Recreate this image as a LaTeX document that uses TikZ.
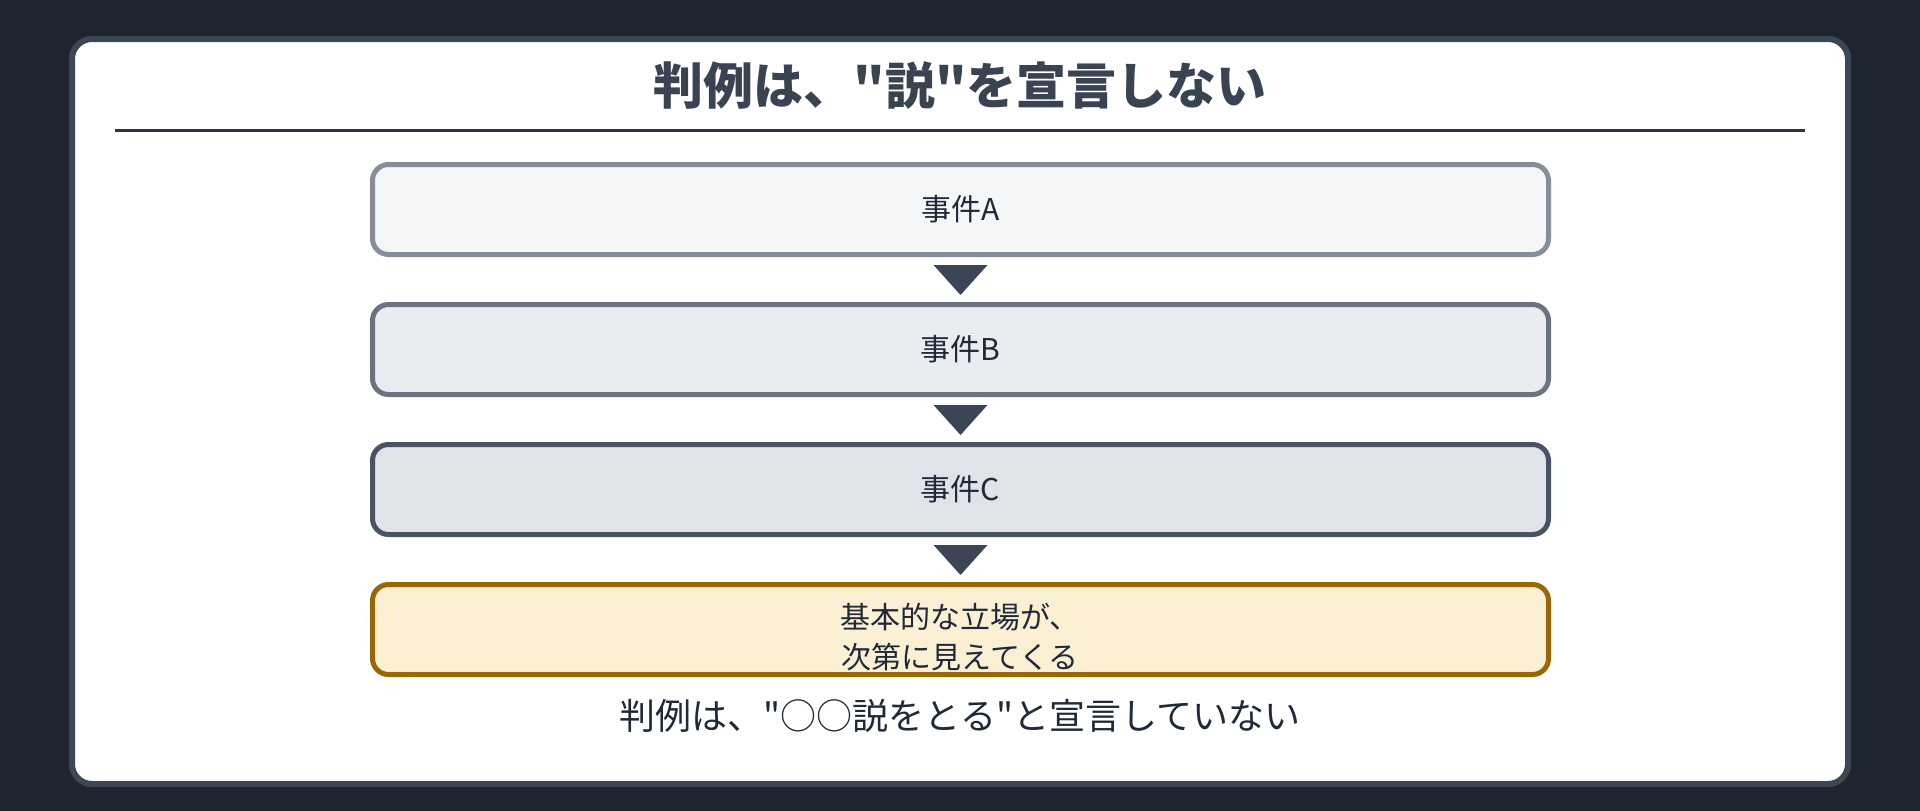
\documentclass[tikz,border=0pt]{standalone}
\usepackage{fontspec}
\setmainfont{Noto Sans CJK JP}
\newfontfamily\jp{Noto Sans CJK JP}
\usetikzlibrary{calc}
\definecolor{bgc}{HTML}{1E2530}
\definecolor{cardborder}{HTML}{3C4655}
\definecolor{titlec}{HTML}{3A4352}
\definecolor{rulec}{HTML}{2D3340}
\definecolor{textc}{HTML}{1F2937}
\definecolor{arrowc}{HTML}{3C4555}
\definecolor{aFill}{HTML}{F5F6F8}
\definecolor{aDraw}{HTML}{868E9C}
\definecolor{bFill}{HTML}{E9ECF0}
\definecolor{bDraw}{HTML}{6B7382}
\definecolor{cFill}{HTML}{E0E3E8}
\definecolor{cDraw}{HTML}{4A5363}
\definecolor{dFill}{HTML}{FBF0D4}
\definecolor{dDraw}{HTML}{996608}
\tikzset{
  stagebox/.style={draw, rounded corners=16pt, line width=5pt,
    minimum width=1176pt, minimum height=90pt, inner sep=0pt,
    text=textc, font=\jp\fontsize{30}{36}\selectfont},
  tri/.style={fill=arrowc},
}
\begin{document}
\begin{tikzpicture}[x=1pt,y=-1pt]
\useasboundingbox (0,0) rectangle (1920,811);
\fill[bgc] (0,0) rectangle (1920,811);
% card
\draw[cardborder, fill=white, line width=6pt, rounded corners=20pt] (72,39) rectangle (1848,784);
% title
\node[text=titlec, font=\jp\fontsize{50}{60}\selectfont\bfseries] (title) at (960,86) {判例は、"説"を宣言しない};
\coordinate (rl) at (115,130);
\coordinate (rr) at (1805,130);
\draw[rulec, line width=3pt] (rl) -- (rr);
% boxes
\node[stagebox, draw=aDraw, fill=aFill] (a) at (960.5,209.5) {事件A};
\node[stagebox, draw=bDraw, fill=bFill] (b) at (960.5,349.5) {事件B};
\node[stagebox, draw=cDraw, fill=cFill] (c) at (960.5,489.5) {事件C};
\node[stagebox, draw=dDraw, fill=dFill] (d) at (960.5,629.5) {};
\node[text=textc, font=\jp\fontsize{30}{40}\selectfont, align=center, inner sep=0pt] (dtext) at (960,637) {基本的な立場が、\\次第に見えてくる};
% arrows
\foreach \u/\v in {a/b, b/c, c/d}{
  \fill[tri] ($(\u.south)+(-27,8)$) -- ($(\u.south)+(27,8)$) -- ($(\v.north)+(0,-7)$) -- cycle;
}
% bottom text
\node[text=textc, font=\jp\fontsize{36}{44}\selectfont] (note) at (960,716) {判例は、"○○説をとる"と宣言していない};
\end{tikzpicture}
\end{document}
